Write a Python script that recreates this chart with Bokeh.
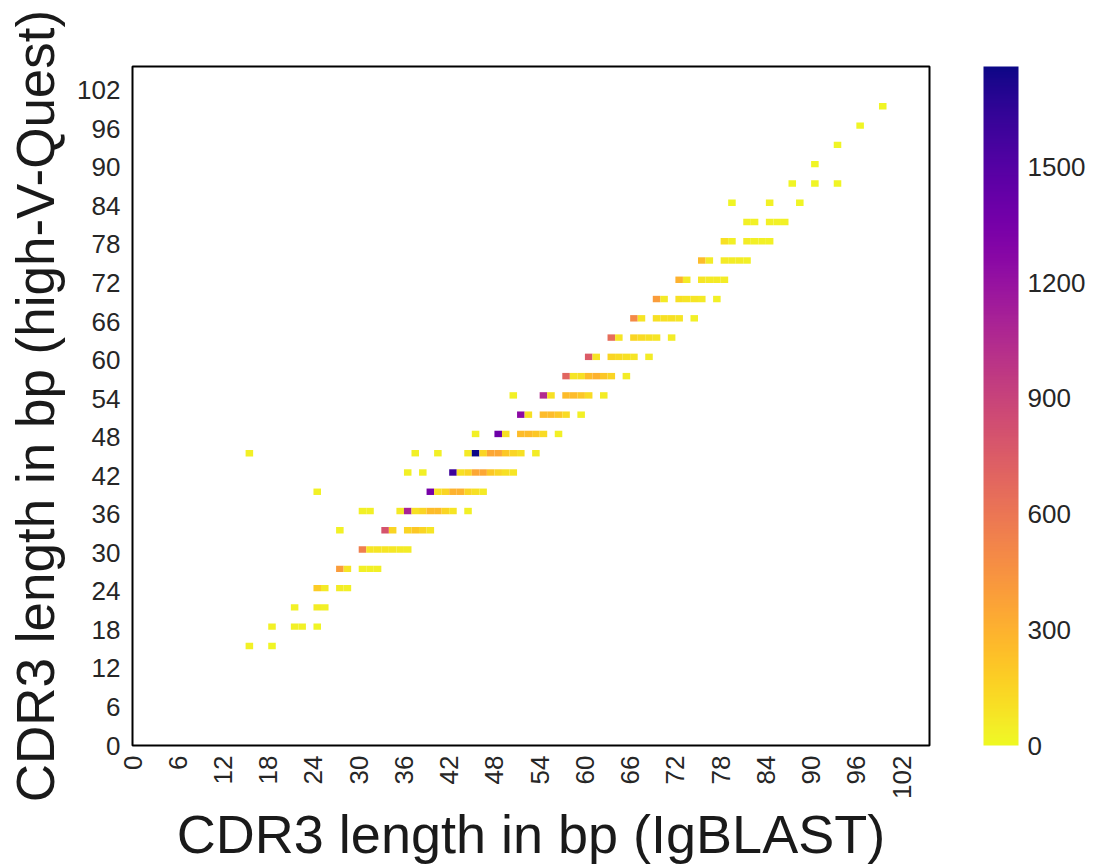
import math
from bokeh.plotting import figure
from bokeh.models import (ColumnDataSource, LinearColorMapper, ColorBar,
                          FixedTicker, Range1d)
from bokeh.transform import transform, dodge
from bokeh.palettes import Plasma256
from bokeh.embed import file_html
from bokeh.resources import INLINE

# ---------------- data (CDR3 length in bp) ----------------
# IgBLAST length (x), high-V-Quest length (y), number of sequences
igblast_len = [
    15, 18,
    18, 21, 22, 24,
    21, 24, 25,
    24, 25, 27, 28,
    27, 28, 30, 31, 32,
    30, 31, 32, 33, 34, 35, 36,
    27, 33, 34, 36, 37, 38, 39,
    30, 31, 35, 36, 37, 38, 39, 40, 41, 42, 44,
    24, 39, 40, 41, 42, 43, 44, 45, 46,
    36, 38, 42, 43, 44, 45, 46, 47, 48, 49, 50,
    15, 37, 40, 44, 45, 46, 47, 48, 49, 50, 51, 53,
    45, 48, 49, 51, 52, 53, 54, 56,
    51, 52, 54, 55, 56, 57, 59,
    50, 54, 55, 57, 58, 59, 60, 62,
    57, 58, 59, 60, 61, 62, 63, 65,
    60, 61, 63, 64, 65, 66, 68,
    63, 64, 66, 67, 68, 69, 71,
    66, 67, 69, 70, 71, 72, 74,
    69, 70, 72, 73, 74, 75, 77,
    72, 73, 75, 76, 77, 78,
    75, 76, 78, 79, 80, 81,
    78, 79, 81, 82, 83, 84,
    81, 82, 84, 85, 86,
    79, 84, 88,
    87, 90, 93,
    90,
    93,
    96,
    99,
]
hvq_len = (
    [15] * 2 + [18] * 4 + [21] * 3 + [24] * 4 + [27] * 5 + [30] * 7 +
    [33] * 7 + [36] * 11 + [39] * 9 + [42] * 11 + [45] * 12 + [48] * 8 +
    [51] * 7 + [54] * 8 + [57] * 8 + [60] * 7 + [63] * 7 + [66] * 7 +
    [69] * 7 + [72] * 6 + [75] * 6 + [78] * 6 + [81] * 5 + [84] * 3 +
    [87] * 3 + [90] + [93] + [96] + [99]
)
counts = [
    30, 20,
    30, 40, 30, 20,
    30, 50, 40,
    180, 60, 50, 40,
    400, 80, 40, 40, 40,
    550, 80, 80, 80, 70, 60, 50,
    30, 800, 150, 150, 200, 150, 80,
    40, 40, 60, 1100, 100, 150, 250, 250, 150, 80, 40,
    30, 1350, 100, 150, 300, 300, 150, 100, 60,
    40, 40, 1600, 100, 150, 350, 350, 200, 150, 100, 80,
    40, 40, 40, 60, 1760, 150, 350, 350, 200, 150, 100, 50,
    40, 1400, 100, 250, 250, 200, 120, 40,
    1250, 100, 250, 250, 200, 120, 40,
    40, 1050, 100, 250, 250, 200, 120, 50,
    700, 80, 100, 250, 300, 200, 150, 50,
    750, 80, 150, 120, 100, 80, 50,
    650, 80, 150, 120, 100, 80, 50,
    500, 80, 100, 100, 100, 80, 40,
    400, 60, 100, 80, 80, 60, 40,
    300, 60, 80, 60, 60, 50,
    250, 50, 60, 50, 50, 40,
    100, 40, 50, 40, 40, 30,
    40, 30, 40, 30, 30,
    20, 30, 20,
    20, 20, 20,
    20,
    20,
    20,
    20,
]
axis_ticks = list(range(0, 103, 6))
cbar_ticks = [0, 300, 600, 900, 1200, 1500]
count_max = 1760
axis_max = 105.7

x_title = "CDR3 length in bp (IgBLAST)"
y_title = "CDR3 length in bp (high-V-Quest)"

FONT = "Liberation Sans"
TXT = "#262626"

src = ColumnDataSource(dict(x=igblast_len, y=hvq_len, c=counts))
mapper = LinearColorMapper(palette=list(reversed(Plasma256)), low=0, high=count_max)

p = figure(frame_width=797, frame_height=679,
           x_range=Range1d(0, axis_max), y_range=Range1d(0, axis_max),
           min_border_left=132, min_border_top=66, min_border_bottom=0,
           min_border_right=158,
           output_backend="svg", toolbar_location=None,
           background_fill_color="white", border_fill_color="white")

p.rect(x=dodge("x", 0.5), y=dodge("y", 0.5), width=1, height=1, source=src,
       fill_color=transform("c", mapper), line_color=None)

p.xgrid.visible = False
p.ygrid.visible = False
p.outline_line_color = "black"
p.outline_line_width = 2

for ax in (p.xaxis[0], p.yaxis[0]):
    ax.ticker = FixedTicker(ticks=axis_ticks)
    ax.axis_line_color = None
    ax.major_tick_line_color = None
    ax.minor_tick_line_color = None
    ax.major_tick_out = 0
    ax.major_tick_in = 0
    ax.major_label_text_font = FONT
    ax.major_label_text_font_size = "26px"
    ax.major_label_text_color = TXT
    ax.axis_label_text_font = FONT
    ax.axis_label_text_font_style = "normal"
    ax.axis_label_text_color = "#1a1a1a"

p.xaxis[0].axis_label = x_title
p.yaxis[0].axis_label = y_title
p.xaxis[0].axis_label_text_font_size = "54px"
p.yaxis[0].axis_label_text_font_size = "53px"
p.xaxis[0].major_label_orientation = math.pi / 2
p.xaxis[0].major_label_standoff = 10
p.xaxis[0].axis_label_standoff = 2
p.yaxis[0].major_label_standoff = 12
p.yaxis[0].axis_label_standoff = 9

cb = ColorBar(color_mapper=mapper, ticker=FixedTicker(ticks=cbar_ticks),
              width=35, height=679, padding=0, location=(54, 0),
              label_standoff=9, major_tick_line_color=None,
              minor_tick_line_color=None, bar_line_color=None,
              border_line_color=None,
              major_label_text_font=FONT, major_label_text_font_size="26px",
              major_label_text_color=TXT)
p.add_layout(cb, "right")

open("out.html", "w").write(file_html(p, INLINE))
